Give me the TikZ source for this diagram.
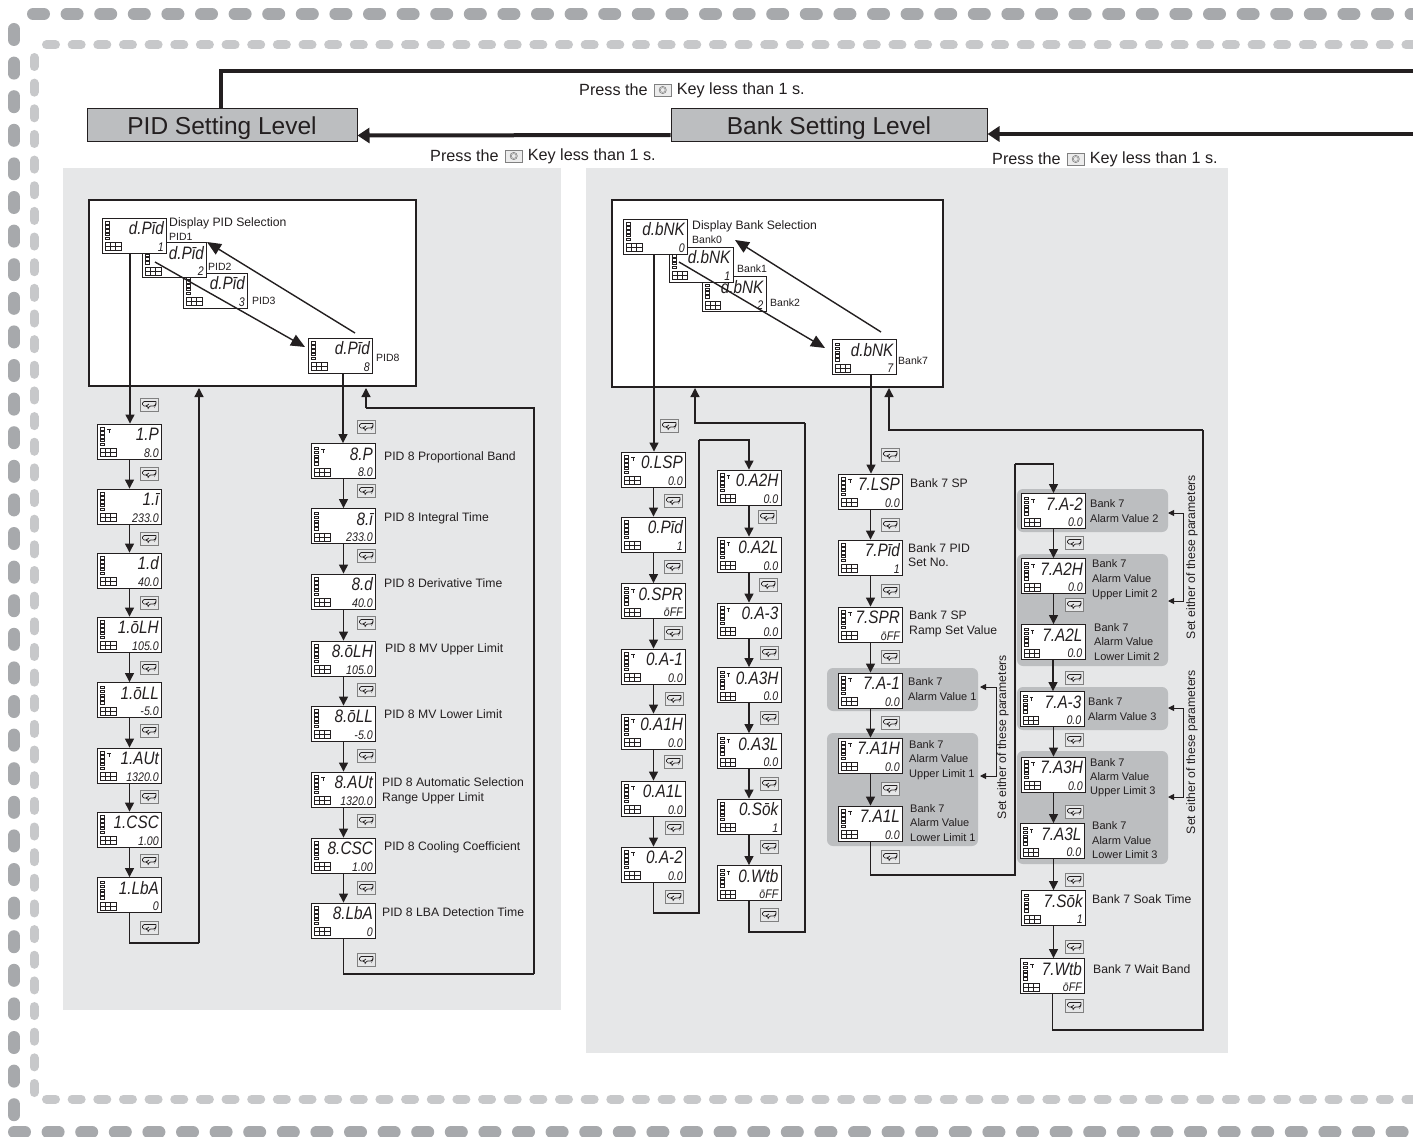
\documentclass[tikz,border=0pt]{standalone}
\usepackage{fontspec}
\setmainfont{Liberation Sans}
\newfontfamily\segfont[FakeStretch=0.85]{Liberation Sans}
\usetikzlibrary{arrows.meta,calc}
\definecolor{panelgray}{HTML}{E6E7E8}
\definecolor{levelgray}{HTML}{BCBEC0}
\definecolor{groupgray}{HTML}{BCBEC0}
\definecolor{dashdark}{HTML}{A7A9AC}
\definecolor{dashlight}{HTML}{C7C8CA}
\definecolor{linedark}{HTML}{231F20}
\newcounter{kc}
\newcounter{lc}
\tikzset{
  x=1pt,y=-1pt,
  panel/.style={fill=panelgray},
  group/.style={fill=groupgray,rounded corners=6pt},
  frame/.style={draw=linedark,fill=white,line width=1.6pt,inner sep=0pt},
  level/.style={draw=linedark,fill=levelgray,line width=1pt,inner sep=0pt,text height=20pt,text depth=1pt,font=\fontsize{24.5}{28}\selectfont,text=linedark},
  dispbox/.style={draw=linedark,fill=white,line width=.9pt,minimum width=64pt,minimum height=35pt,inner sep=0pt},
  segtop/.style={inner sep=0pt,font=\fontsize{18}{20}\segfont\itshape,text=linedark},
  segbot/.style={inner sep=0pt,font=\fontsize{12.5}{14}\segfont\itshape,text=linedark},
  keybox/.style={draw=gray,fill=panelgray,line width=.8pt,minimum width=18pt,minimum height=12.5pt,inner sep=0pt},
  lbl/.style={inner sep=0pt,anchor=base west,text=linedark,font=\fontsize{12.2}{14}\selectfont},
  lblm/.style={lbl,font=\fontsize{11}{13}\selectfont},
  lbls/.style={lbl,font=\fontsize{10.5}{12}\selectfont},
  press/.style={inner sep=0pt,text=linedark,font=\fontsize{16.2}{18}\selectfont},
  flow/.style={draw=linedark,line width=1.3pt,-{Triangle[length=9pt,width=9pt]}},
  conn/.style={draw=linedark,line width=1.3pt},
  bigflow/.style={draw=linedark,line width=1.4pt,-{Triangle[length=14pt,width=12pt]}},
  levelflow/.style={draw=linedark,line width=4pt,-{Triangle[length=12pt,width=15pt]}},
  levelline/.style={draw=linedark,line width=4pt},
  side/.style={draw=linedark,line width=.9pt,{Triangle[length=6pt,width=6pt]}-{Triangle[length=6pt,width=6pt]}},
  vertlbl/.style={inner sep=0pt,rotate=90,text=linedark,font=\fontsize{12.2}{14}\selectfont},
  dashouter/.style={draw=dashdark,line width=12pt,line cap=round,dash pattern=on 11pt off 22.6pt},
  dashinner/.style={draw=dashlight,line width=9pt,line cap=round,dash pattern=on 9pt off 16.65pt}
}
% display: name, cx, cy, top text, bottom text, tau flag
\newcommand{\disp}[6]{%
  \node[dispbox] (#1) at (#2,#3) {};
  \begin{scope}[shift={(#2,#3)},line width=.55pt,draw=linedark]
    \foreach \i in {0,1,2,3,4} {\draw (-29,-14+\i*3.9) rectangle (-25,-11.5+\i*3.9);}
    \draw (-29,7) rectangle (-13.5,15);
    \draw (-29,11) -- (-13.5,11) (-24,7) -- (-24,15) (-19,7) -- (-19,15);
    \ifnum#6=1 \draw[line width=.5pt] (-22.5,-12) -- (-19,-12) (-20.7,-12) -- (-20.7,-8.5);\fi
  \end{scope}
  \node[segtop,anchor=base east] (#1t) at (#2+29.5,#3-1) {#4};
  \node[segbot,anchor=base east] (#1b) at (#2+29.5,#3+15.5) {#5};
}
% key icon
\newcommand{\keyi}[2]{%
  \stepcounter{kc}%
  \node[keybox] (k\thekc) at (#1,#2) {};
  \begin{scope}[shift={(#1,#2)},line width=.7pt]
    \draw[linedark,rounded corners=1.5pt] (7,-3.5) -- (-6.5,-3.5) -- (-6.5,1) -- (-1,1);
    \draw[linedark,rounded corners=1.5pt] (7,-3.5) -- (7,-1) -- (6,1) -- (0,1) -- (-1,4);
    \draw[linedark] (-3,1) -- (0,-1) (-3,1) -- (0,3);
  \end{scope}
}
\newcommand{\lab}[4][lbl]{%
  \stepcounter{lc}%
  \node[#1] (t\thelc) at (#2,#3+4) {#4};
}
% press text: name, x, y
\newcommand{\presstext}[3]{%
  \node[press,anchor=west] (#1a) at (#2,#3) {Press the};
  \node[keybox,anchor=west,minimum width=17pt,minimum height=12pt,fill=white!85!gray] (#1k) at ($(#1a.east)+(6,0)$) {};
  \draw[gray,line width=.6pt] (#1k.center) circle[radius=3.6pt];
  \draw[gray,line width=.4pt] (#1k.center) circle[radius=2.4pt];
  \node[press,anchor=west] (#1b) at ($(#1k.east)+(5,0)$) {Key less than 1 s.};
}
\newcommand{\down}[2]{\draw[flow] (#1.south) -- (#1.south |- #2.north);}
\begin{document}
\begin{tikzpicture}
\useasboundingbox (0,0) rectangle (1413,1137);
\fill[white] (0,0) rectangle (1413,1137);
% dashed borders
\draw[dashouter] (33,14) -- (1420,14);
\draw[dashouter] (14,29) -- (14,1116);
\draw[dashouter] (14,1132) -- (1420,1132);
\draw[dashinner] (46.5,45) -- (1420,45);
\draw[dashinner] (34,57.5) -- (34,1095);
\draw[dashinner] (46.5,1099) -- (1420,1099);
% panels
\path[panel] (63,168) rectangle (561,1010);
\path[panel] (586,168) rectangle (1228,1053);
% frames
\node[frame,minimum width=327pt,minimum height=186pt] (pidframe) at (252.5,293) {};
\node[frame,minimum width=331pt,minimum height=187pt] (bankframe) at (777.5,293.5) {};
% level boxes
\node[level,minimum width=270pt,minimum height=33pt] (pidlevel) at (222,125.5) {PID Setting Level};
\node[level,minimum width=316pt,minimum height=33pt] (banklevel) at (829,125) {Bank Setting Level};
\coordinate (rt1) at (1413,71);
\coordinate (rt2) at (1413,134);
\draw[levelline] (pidlevel.north -| 221,0) |- (rt1);
\draw[levelflow] ($(banklevel.west)+(0,10)$) -- ($(pidlevel.east)+(0,10)$);
\draw[levelflow] (rt2) -- (banklevel.east |- rt2);
\presstext{pa}{579}{90}
\presstext{pb}{430}{156}
\presstext{pc}{992}{159}
% PID selection
\disp{pt}{215.5}{290.5}{d.Pīd}{3}{0}
\disp{ps}{174.5}{260}{d.Pīd}{2}{0}
\disp{pr}{134.5}{235.5}{d.Pīd}{1}{0}
\disp{pe}{340.5}{355.5}{d.Pīd}{8}{0}
\lab[lbl]{169}{222}{Display PID Selection}
\lab[lbls]{169}{236}{PID1}
\lab[lbls]{208}{266}{PID2}
\lab[lbls]{252}{300}{PID3}
\lab[lbls]{376}{357}{PID8}
\coordinate (pdn1) at (155,262);
\coordinate (pdn2) at (305,347);
\coordinate (pup1) at (355,333);
\coordinate (pup2) at (207,242);
\draw[bigflow] (pdn1) -- (pdn2);
\draw[bigflow] (pup1) -- (pup2);
% left column
\disp{la}{129.5}{441.5}{1.P}{8.0}{1}
\disp{lb}{129.5}{506.5}{1.ī}{233.0}{0}
\disp{lc}{129.5}{570.5}{1.d}{40.0}{0}
\disp{ld}{129.5}{634.5}{1.ōLH}{105.0}{0}
\disp{le}{129.5}{700}{1.ōLL}{-5.0}{0}
\disp{lf}{129.5}{765.5}{1.AUt}{1320.0}{1}
\disp{lg}{129.5}{829.5}{1.CSC}{1.00}{0}
\disp{lh}{129.5}{895}{1.LbA}{0}{0}
\draw[flow] (130,0 |- pr.south) -- (130,0 |- la.north);
\down{la}{lb}\down{lb}{lc}\down{lc}{ld}\down{ld}{le}\down{le}{lf}\down{lf}{lg}\down{lg}{lh}
\coordinate (lr) at (199,943);
\draw[conn] (lh.south) |- (lr);
\draw[flow] (lr) -- (199,388);
\foreach \y in {405,474,539,603,668,731,797,861,928} {\keyi{149}{\y}}
% PID 8 column
\disp{ma}{343.5}{461}{8.P}{8.0}{1}
\disp{mb}{343.5}{526}{8.ī}{233.0}{0}
\disp{mc}{343.5}{591.5}{8.d}{40.0}{0}
\disp{md}{343.5}{658.5}{8.ōLH}{105.0}{0}
\disp{me}{343.5}{723.5}{8.ōLL}{-5.0}{0}
\disp{mf}{343.5}{789.5}{8.AUt}{1320.0}{1}
\disp{mg}{343.5}{855.5}{8.CSC}{1.00}{0}
\disp{mh}{343.5}{920.5}{8.LbA}{0}{0}
\draw[flow] (343,0 |- pe.south) -- (343,0 |- ma.north);
\down{ma}{mb}\down{mb}{mc}\down{mc}{md}\down{md}{me}\down{me}{mf}\down{mf}{mg}\down{mg}{mh}
\coordinate (mr1) at (534,974);
\coordinate (mr2) at (366,408);
\draw[conn] (mh.south) |- (mr1);
\draw[conn] (mr1) |- (mr2);
\draw[flow] (mr2) -- (366,388);
\foreach \y in {427,491,556,623,690,756,821,888,960} {\keyi{366}{\y}}
\lab{384}{456}{PID 8 Proportional Band}
\lab{384}{517}{PID 8 Integral Time}
\lab{384}{583}{PID 8 Derivative Time}
\lab{385}{648}{PID 8 MV Upper Limit}
\lab{384}{714}{PID 8 MV Lower Limit}
\lab{382}{782}{PID 8 Automatic Selection}
\lab{382}{797}{Range Upper Limit}
\lab{384}{846}{PID 8 Cooling Coefficient}
\lab{382}{912}{PID 8 LBA Detection Time}
% Bank selection
\disp{bt}{734}{294}{d.bNK}{2}{0}
\disp{bs}{701}{264.5}{d.bNK}{1}{0}
\disp{br}{655.5}{236.5}{d.bNK}{0}{0}
\disp{be}{864}{357}{d.bNK}{7}{0}
\lab[lbl]{692}{225}{Display Bank Selection}
\lab[lbls]{692}{239}{Bank0}
\lab[lbls]{737}{268}{Bank1}
\lab[lbls]{770}{302}{Bank2}
\lab[lbls]{898}{360}{Bank7}
\coordinate (bdn1) at (679,262);
\coordinate (bdn2) at (825,348);
\coordinate (bup1) at (881,332);
\coordinate (bup2) at (735,240);
\draw[bigflow] (bdn1) -- (bdn2);
\draw[bigflow] (bup1) -- (bup2);
% bank column 0 a
\disp{ca}{653.5}{469.5}{0.LSP}{0.0}{1}
\disp{cb}{653.5}{534.5}{0.Pīd}{1}{0}
\disp{cc}{653.5}{601}{0.SPR}{ōFF}{1}
\disp{cd}{653.5}{666.5}{0.A-1}{0.0}{1}
\disp{ce}{653.5}{731.5}{0.A1H}{0.0}{1}
\disp{cf}{653.5}{798.5}{0.A1L}{0.0}{1}
\disp{cg}{653.5}{864.5}{0.A-2}{0.0}{1}
\draw[flow] (654,0 |- br.south) -- (654,0 |- ca.north);
\down{ca}{cb}\down{cb}{cc}\down{cc}{cd}\down{cd}{ce}\down{ce}{cf}\down{cf}{cg}
% bank column 0 b
\disp{da}{749}{487.5}{0.A2H}{0.0}{1}
\disp{db}{749}{554.5}{0.A2L}{0.0}{1}
\disp{dc}{749}{620.5}{0.A-3}{0.0}{1}
\disp{dd}{749}{685}{0.A3H}{0.0}{1}
\disp{de}{749}{751}{0.A3L}{0.0}{1}
\disp{df}{749}{816.5}{0.Sōk}{1}{0}
\disp{dg}{749}{883}{0.Wtb}{ōFF}{1}
\down{da}{db}\down{db}{dc}\down{dc}{dd}\down{dd}{de}\down{de}{df}\down{df}{dg}
\coordinate (cr1) at (699,913);
\coordinate (cr2) at (699,440);
\draw[conn] (cg.south) |- (cr1) -- (cr2);
\draw[flow] (cr2) -| (da.north);
\coordinate (dr1) at (805,932);
\coordinate (dr2) at (805,423);
\draw[conn] (dg.south) |- (dr1) -- (dr2);
\draw[flow] (dr2) -| (695,388);
\foreach \x/\y in {669/426,673/501,673/567,673/633,674/699,673/762,674/828,674/897,767/517,768/585,769/653,769/718,769/784,769/847,769/915} {\keyi{\x}{\y}}
% bank 7 groups
\path[group] (827,668) rectangle (978,711);
\path[group] (827,733) rectangle (978,846);
\path[group] (1017,489) rectangle (1168,532);
\path[group] (1017,554) rectangle (1168,666);
\path[group] (1017,687) rectangle (1168,730);
\path[group] (1017,751) rectangle (1168,864);
% bank 7 column a
\disp{ea}{870.5}{491.5}{7.LSP}{0.0}{1}
\disp{eb}{870.5}{557.5}{7.Pīd}{1}{0}
\disp{ec}{870.5}{624.5}{7.SPR}{ōFF}{1}
\disp{ed}{870.5}{690.5}{7.A-1}{0.0}{1}
\disp{ee}{870.5}{755.5}{7.A1H}{0.0}{1}
\disp{ef}{870.5}{823.5}{7.A1L}{0.0}{1}
\draw[flow] (871,0 |- be.south) -- (871,0 |- ea.north);
\down{ea}{eb}\down{eb}{ec}\down{ec}{ed}\down{ed}{ee}\down{ee}{ef}
% bank 7 column b
\disp{fa}{1053.5}{511}{7.A-2}{0.0}{1}
\disp{fb}{1053.5}{576}{7.A2H}{0.0}{1}
\disp{fc}{1053}{642}{7.A2L}{0.0}{1}
\disp{fd}{1052}{709}{7.A-3}{0.0}{1}
\disp{fe}{1053.5}{774.5}{7.A3H}{0.0}{1}
\disp{ff}{1052}{841}{7.A3L}{0.0}{1}
\disp{fg}{1053.5}{908}{7.Sōk}{1}{0}
\disp{fh}{1052.5}{976}{7.Wtb}{ōFF}{1}
\down{fa}{fb}\down{fb}{fc}\draw[flow] (fc.south) -- (fc.south |- fd.north);
\draw[flow] (fe.north |- fd.south) -- (fe.north);
\down{fe}{ff}\draw[flow] (fg.north |- ff.south) -- (fg.north);
\down{fg}{fh}
\coordinate (er1) at (1015,875);
\coordinate (er2) at (1015,464);
\draw[conn] (ef.south) |- (er1) -- (er2);
\draw[flow] (er2) -| (fa.north);
\coordinate (fr1) at (1203,1030);
\coordinate (fr2) at (1203,430);
\draw[conn] (fh.south) |- (fr1) -- (fr2);
\draw[flow] (fr2) -| (889,388);
\foreach \x/\y in {890/455,890/525,890/591,890/657,890/723,890/789,890/857,1074/543,1074/605,1074/678,1074/740,1074/812,1074/880,1074/947,1074/1006} {\keyi{\x}{\y}}
\lab{910}{483}{Bank 7 SP}
\lab{908}{548}{Bank 7 PID}
\lab{908}{562}{Set No.}
\lab{909}{615}{Bank 7 SP}
\lab{909}{630}{Ramp Set Value}
\lab[lblm]{908}{681}{Bank 7}
\lab[lblm]{908}{696}{Alarm Value 1}
\lab[lblm]{909}{744}{Bank 7}
\lab[lblm]{909}{758}{Alarm Value}
\lab[lblm]{909}{773}{Upper Limit 1}
\lab[lblm]{910}{808}{Bank 7}
\lab[lblm]{910}{822}{Alarm Value}
\lab[lblm]{910}{837}{Lower Limit 1}
\lab[lblm]{1090}{503}{Bank 7}
\lab[lblm]{1090}{518}{Alarm Value 2}
\lab[lblm]{1092}{563}{Bank 7}
\lab[lblm]{1092}{578}{Alarm Value}
\lab[lblm]{1092}{593}{Upper Limit 2}
\lab[lblm]{1094}{627}{Bank 7}
\lab[lblm]{1094}{641}{Alarm Value}
\lab[lblm]{1094}{656}{Lower Limit 2}
\lab[lblm]{1088}{701}{Bank 7}
\lab[lblm]{1088}{716}{Alarm Value 3}
\lab[lblm]{1090}{762}{Bank 7}
\lab[lblm]{1090}{776}{Alarm Value}
\lab[lblm]{1090}{790}{Upper Limit 3}
\lab[lblm]{1092}{825}{Bank 7}
\lab[lblm]{1092}{840}{Alarm Value}
\lab[lblm]{1092}{854}{Lower Limit 3}
\lab{1092}{899}{Bank 7 Soak Time}
\lab{1093}{969}{Bank 7 Wait Band}
% side brackets
\coordinate (sa1) at (980,687);
\coordinate (sa2) at (980,776);
\draw[side] (sa1) -- (996,687) -- (996,776) -- (sa2);
\node[vertlbl] (sal) at (1003,737) {Set either of these parameters};
\coordinate (sb1) at (1168,513);
\coordinate (sb2) at (1168,601);
\draw[side] (sb1) -- (1183,513) -- (1183,601) -- (sb2);
\node[vertlbl] (sbl) at (1192,557) {Set either of these parameters};
\coordinate (sc1) at (1168,708);
\coordinate (sc2) at (1168,797);
\draw[side] (sc1) -- (1183,708) -- (1183,797) -- (sc2);
\node[vertlbl] (scl) at (1192,752) {Set either of these parameters};
\end{tikzpicture}
\end{document}
